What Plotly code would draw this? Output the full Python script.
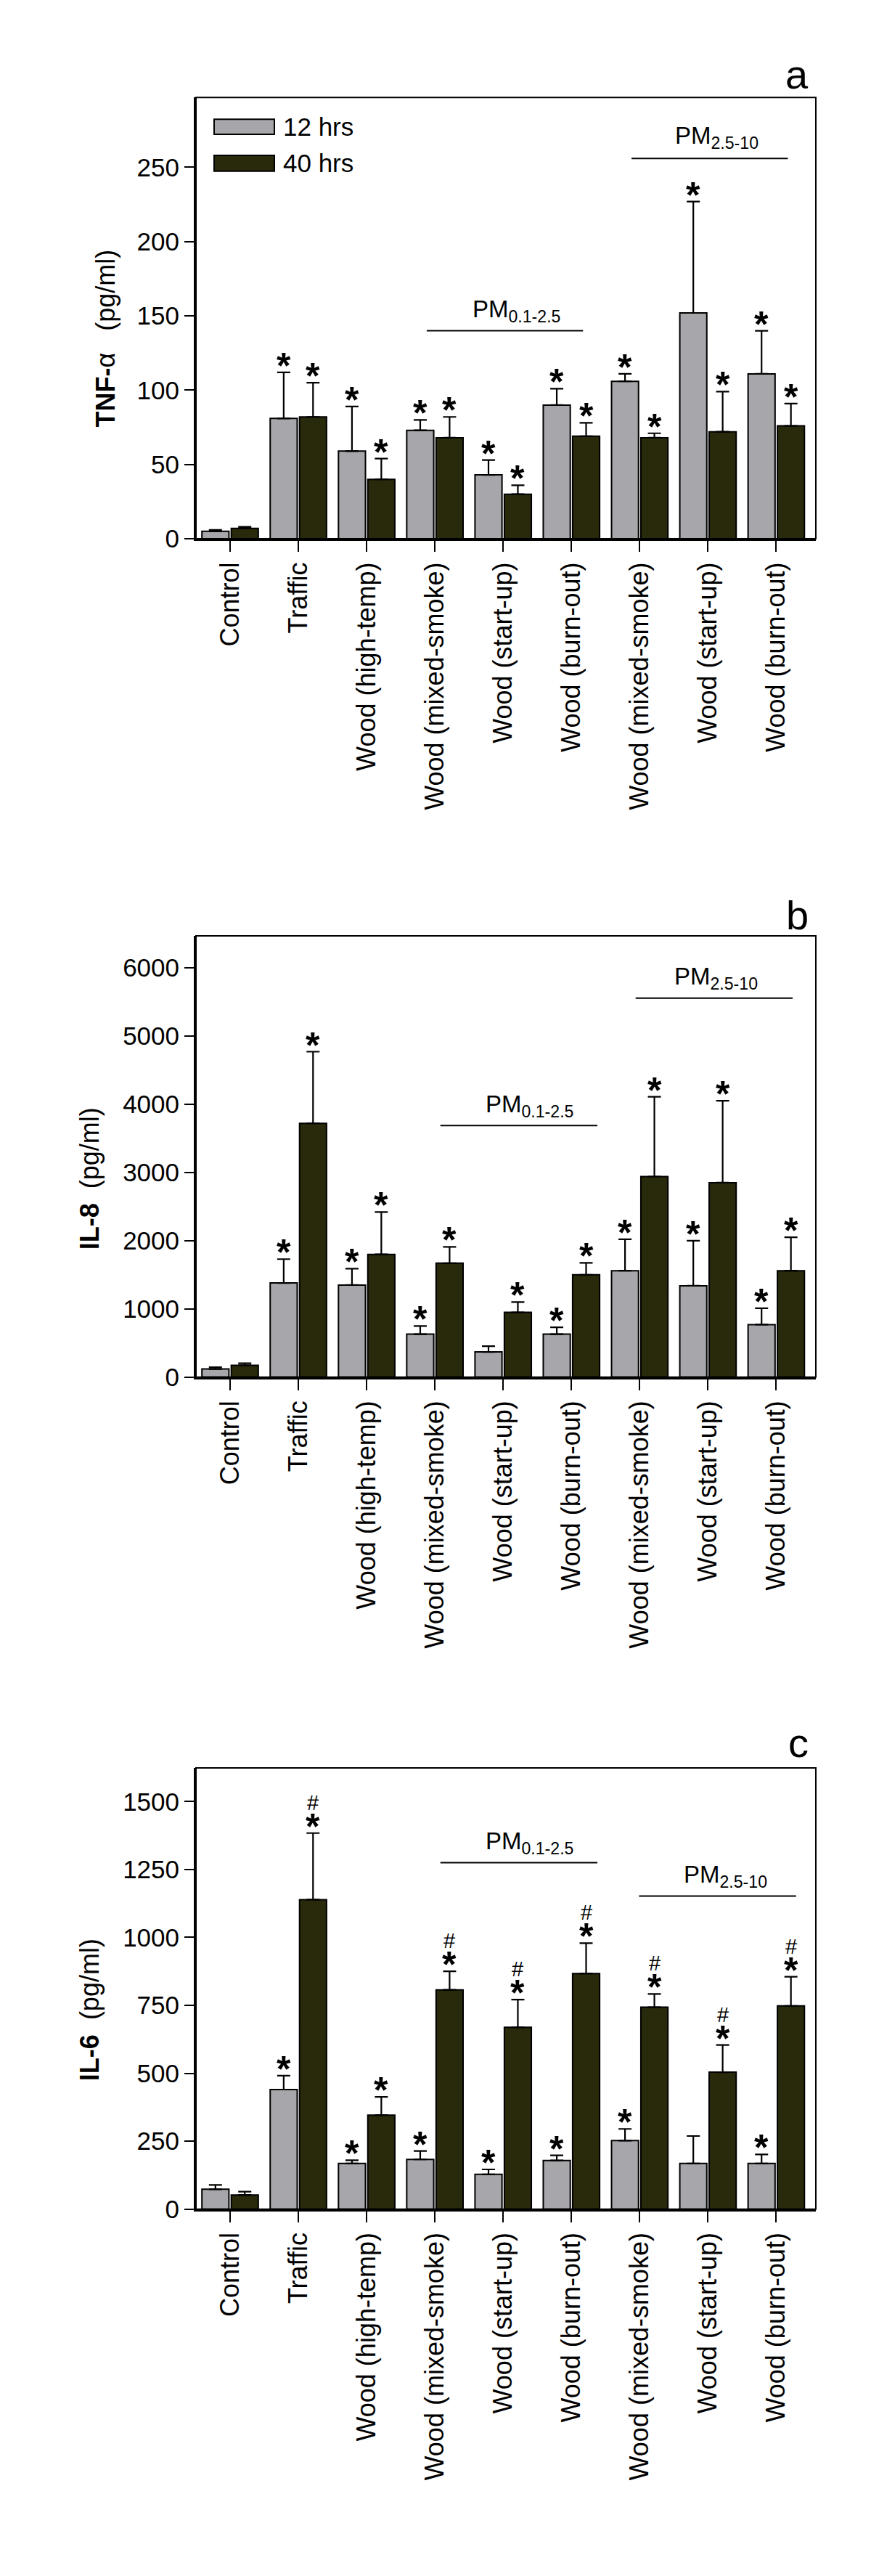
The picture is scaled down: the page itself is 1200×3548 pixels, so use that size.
import plotly.graph_objects as go

# ---------------- data ----------------
categories = ["Control", "Traffic", "Wood (high-temp)", "Wood (mixed-smoke)",
              "Wood (start-up)", "Wood (burn-out)", "Wood (mixed-smoke)",
              "Wood (start-up)", "Wood (burn-out)"]
series_names = ["12 hrs", "40 hrs"]

tnf_12 = [5, 81, 59, 73, 43, 90, 106, 152, 111]
tnf_12_err = [1, 31, 30, 7, 10, 11, 5, 75, 29]
tnf_40 = [7, 82, 40, 68, 30, 69, 68, 72, 76]
tnf_40_err = [1, 23, 14, 14, 6, 9, 3, 27, 15]
tnf_12_sig = [0, 1, 1, 1, 1, 1, 1, 1, 1]
tnf_40_sig = [0, 1, 1, 1, 1, 1, 1, 1, 1]

il8_12 = [120, 1380, 1350, 630, 370, 630, 1560, 1340, 770]
il8_12_err = [25, 350, 240, 120, 85, 100, 460, 660, 240]
il8_40 = [175, 3720, 1800, 1670, 950, 1500, 2940, 2850, 1560]
il8_40_err = [30, 1050, 620, 240, 150, 175, 1170, 1200, 490]
il8_12_sig = [0, 1, 1, 1, 0, 1, 1, 1, 1]
il8_40_sig = [0, 1, 1, 1, 1, 1, 1, 1, 1]

il6_12 = [73, 440, 168, 183, 128, 179, 252, 168, 168]
il6_12_err = [16, 51, 12, 31, 18, 19, 43, 101, 33]
il6_40 = [52, 1139, 346, 807, 669, 867, 743, 504, 748]
il6_40_err = [12, 245, 67, 68, 102, 112, 49, 100, 107]
il6_12_sig = [0, 1, 1, 1, 1, 1, 1, 0, 1]
il6_40_sig = [0, 1, 1, 1, 1, 1, 1, 1, 1]
il6_40_hash = [0, 1, 0, 1, 1, 1, 1, 1, 1]

tnf_ticks = [0, 50, 100, 150, 200, 250]
il8_ticks = [0, 1000, 2000, 3000, 4000, 5000, 6000]
il6_ticks = [0, 250, 500, 750, 1000, 1250, 1500]

# ---------------- styling ----------------
W, H = 1200, 3548
FONT = "Liberation Sans, Arial, sans-serif"
GRAY = "#a6a6ab"
DARK = "#29290c"
X0, X1 = 262, 1116
XR = [-0.5, 8.58]
BARGAP = 0.14
OFF = (1 - BARGAP) / 4

panels = [
    dict(top=127, bot=738, yr=[0, 297], ticks=tnf_ticks,
         d12=tnf_12, e12=tnf_12_err, d40=tnf_40, e40=tnf_40_err,
         s12=tnf_12_sig, s40=tnf_40_sig, h40=None,
         title="<b>TNF-</b>α&nbsp;&nbsp;&nbsp;(pg/ml)", tx=138, ty=461,
         letter="a", ly=95,
         pm1=dict(x0=2.88, x1=5.17, y=140, tx=4.19, ty=147),
         pm2=dict(x0=5.88, x1=8.17, y=256, tx=7.13, ty=264)),
    dict(top=1288, bot=1899, yr=[0, 6466], ticks=il8_ticks,
         d12=il8_12, e12=il8_12_err, d40=il8_40, e40=il8_40_err,
         s12=il8_12_sig, s40=il8_40_sig, h40=None,
         title="<b>IL-8</b>&nbsp;&nbsp;(pg/ml)", tx=115, ty=1624,
         letter="b", ly=1259,
         pm1=dict(x0=3.08, x1=5.38, y=3688, tx=4.39, ty=3844),
         pm2=dict(x0=5.94, x1=8.24, y=5556, tx=7.12, ty=5714)),
    dict(top=2440, bot=3051, yr=[0, 1624], ticks=il6_ticks,
         d12=il6_12, e12=il6_12_err, d40=il6_40, e40=il6_40_err,
         s12=il6_12_sig, s40=il6_40_sig, h40=il6_40_hash,
         title="<b>IL-6</b>&nbsp;&nbsp;(pg/ml)", tx=115, ty=2775,
         letter="c", ly=2405,
         pm1=dict(x0=3.08, x1=5.38, y=1275, tx=4.39, ty=1314),
         pm2=dict(x0=5.99, x1=8.29, y=1152, tx=7.26, ty=1190)),
]

fig = go.Figure()
annotations = []
shapes = []
xs = list(range(len(categories)))

for k, p in enumerate(panels):
    sfx = "" if k == 0 else str(k + 1)
    xa, ya = "x" + sfx, "y" + sfx
    for vals, errs, col, name in [(p["d12"], p["e12"], GRAY, series_names[0]),
                                  (p["d40"], p["e40"], DARK, series_names[1])]:
        fig.add_trace(go.Bar(
            x=xs, y=vals, name=name, xaxis=xa, yaxis=ya, offsetgroup=name,
            marker=dict(color=col, line=dict(color="black", width=2)),
            error_y=dict(type="data", array=errs, arrayminus=[0] * len(errs),
                         symmetric=False, color="black", thickness=2.2, width=9),
            showlegend=False))
    dom = [1 - p["bot"] / H, 1 - p["top"] / H]
    layout_x = dict(domain=[X0 / W, X1 / W], range=XR, anchor=ya,
                    tickmode="array", tickvals=xs, ticktext=categories,
                    tickangle=-90, ticks="outside", ticklen=15, tickwidth=2,
                    tickcolor="black", showline=True, linewidth=3, linecolor="black",
                    showgrid=False, zeroline=False,
                    tickfont=dict(family=FONT, size=36, color="black"))
    layout_y = dict(domain=dom, range=p["yr"], anchor=xa,
                    tickmode="array", tickvals=p["ticks"],
                    ticks="outside", ticklen=13, tickwidth=2, tickcolor="black",
                    showline=True, linewidth=3, linecolor="black",
                    showgrid=False, zeroline=False,
                    tickfont=dict(family=FONT, size=35, color="black"))
    fig.layout["xaxis" + sfx] = layout_x
    fig.layout["yaxis" + sfx] = layout_y

    # frame
    shapes.append(dict(type="rect", xref=xa + " domain", yref=ya + " domain",
                       x0=0, x1=1, y0=0, y1=1, line=dict(color="black", width=2)))

    # significance marks
    for i in xs:
        for sig, vals, errs, dx in [(p["s12"], p["d12"], p["e12"], -OFF),
                                    (p["s40"], p["d40"], p["e40"], OFF)]:
            if sig[i]:
                annotations.append(dict(x=i + dx, y=vals[i] + errs[i], xref=xa, yref=ya,
                                        text="<b>*</b>", showarrow=False, yanchor="bottom",
                                        yshift=-21,
                                        font=dict(family=FONT, size=50, color="black")))
        if p["h40"] is not None and p["h40"][i]:
            annotations.append(dict(x=i + OFF, y=p["d40"][i] + p["e40"][i], xref=xa, yref=ya,
                                    text="#", showarrow=False, yanchor="bottom",
                                    yshift=24,
                                    font=dict(family=FONT, size=29, color="black")))

    # PM group lines and labels
    for pm, lab in [(p["pm1"], "PM<sub>0.1-2.5</sub>"), (p["pm2"], "PM<sub>2.5-10</sub>")]:
        shapes.append(dict(type="line", xref=xa, yref=ya, x0=pm["x0"], x1=pm["x1"],
                           y0=pm["y"], y1=pm["y"], line=dict(color="black", width=2)))
        annotations.append(dict(x=pm["tx"], y=pm["ty"], xref=xa, yref=ya, text=lab,
                                showarrow=False, yanchor="bottom", yshift=-10,
                                font=dict(family=FONT, size=33, color="black")))

    # y title
    annotations.append(dict(x=p["tx"] / W, y=1 - p["ty"] / H, xref="paper", yref="paper",
                            text=p["title"], textangle=-90, showarrow=False,
                            xanchor="center", yanchor="middle",
                            font=dict(family=FONT, size=36, color="black")))
    # panel letter
    annotations.append(dict(x=1108 / W, y=1 - p["ly"] / H, xref="paper", yref="paper",
                            text=p["letter"], showarrow=False,
                            xanchor="right", yanchor="middle",
                            font=dict(family=FONT, size=56, color="black")))

# custom legend in panel a
for (y0, y1, col, lab) in [(157, 178, GRAY, series_names[0]), (207, 229, DARK, series_names[1])]:
    fy0 = (738 - y1) / 611
    fy1 = (738 - y0) / 611
    shapes.append(dict(type="rect", xref="x domain", yref="y domain",
                       x0=(287 - X0) / (X1 - X0), x1=(370 - X0) / (X1 - X0),
                       y0=fy0, y1=fy1, fillcolor=col, line=dict(color="black", width=2)))
    annotations.append(dict(x=(380 - X0) / (X1 - X0), y=(fy0 + fy1) / 2,
                            xref="x domain", yref="y domain", text=lab, showarrow=False,
                            xanchor="left", yanchor="middle",
                            font=dict(family=FONT, size=35, color="black")))

fig.update_layout(
    width=W, height=H, autosize=False,
    margin=dict(l=0, r=0, t=0, b=0),
    paper_bgcolor="white", plot_bgcolor="white",
    barmode="group", bargap=BARGAP, bargroupgap=0.08,
    showlegend=False,
    shapes=shapes, annotations=annotations,
    font=dict(family=FONT, color="black"),
)

fig.write_html("out.html")
